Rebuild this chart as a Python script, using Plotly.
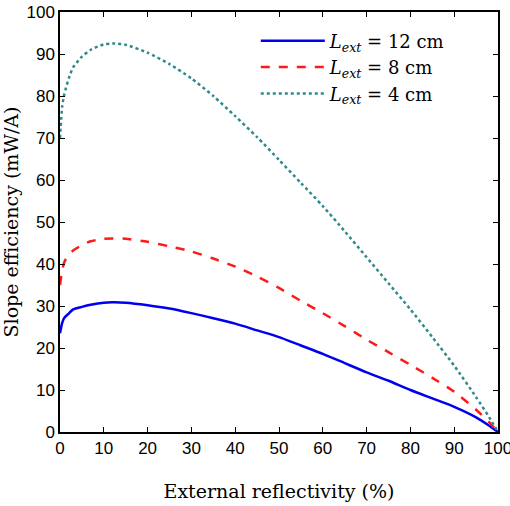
import plotly.graph_objects as go

# External reflectivity (%) sample points
reflectivity = [0, 0.5, 1, 2, 3, 5, 7, 10, 12, 15, 20, 25, 30, 35, 40, 45, 50, 55, 60, 65, 70, 75, 80, 85, 90, 95, 98, 100]

# Slope efficiency (mW/A) for each external cavity length
slope_12cm = [23.5, 26.0, 27.2, 28.2, 29.2, 29.8, 30.3, 30.8, 30.9, 30.8, 30.2, 29.4, 28.3, 27.1, 25.8, 24.2, 22.6, 20.6, 18.6, 16.4, 14.2, 12.2, 10.0, 8.0, 6.0, 3.5, 1.5, 0]
slope_8cm = [35.0, 38.5, 40.5, 42.2, 43.2, 44.5, 45.4, 46.0, 46.1, 46.0, 45.3, 44.2, 43.0, 41.3, 39.4, 37.0, 34.3, 31.2, 28.3, 25.2, 22.0, 19.0, 16.0, 12.9, 9.6, 5.3, 2.3, 0]
slope_4cm = [70.0, 77.5, 80.5, 84.2, 86.8, 89.4, 91.0, 92.3, 92.5, 92.2, 90.3, 87.6, 84.2, 80.0, 75.2, 70.2, 64.8, 59.3, 53.8, 47.8, 41.6, 35.4, 29.2, 22.6, 15.8, 8.3, 3.5, 0]

series = [
    ("<i>L<sub>ext</sub></i> = 12 cm", slope_12cm, "#0000ee", "solid"),
    ("<i>L<sub>ext</sub></i> = 8 cm", slope_8cm, "#ff1a1a", "dash"),
    ("<i>L<sub>ext</sub></i> = 4 cm", slope_4cm, "#2e8a8a", "dot"),
]

x_ticks = list(range(0, 101, 10))
y_ticks = list(range(0, 101, 10))

serif = "DejaVu Serif, Liberation Serif, serif"

fig = go.Figure()
for name, values, color, dash in series:
    fig.add_trace(go.Scatter(
        x=reflectivity, y=values, mode="lines", name=name,
        line=dict(color=color, width=2.5, dash=dash, shape="spline", smoothing=0.6),
    ))

axis_common = dict(
    showline=True, linecolor="black", linewidth=1.5, mirror="ticks",
    ticks="inside", ticklen=5, tickwidth=1, tickcolor="black",
    showgrid=False, zeroline=False, automargin=False,
    ticklabeloverflow="allow",
    tickfont=dict(family="Liberation Sans, Arial, sans-serif", size=17, color="black"),
)

fig.update_layout(
    width=510, height=506,
    margin=dict(l=60, r=12, t=12, b=74),
    paper_bgcolor="white", plot_bgcolor="white",
    xaxis=dict(
        range=[0, 100], tickvals=x_ticks,
        title=dict(text="External reflectivity (%)", standoff=28,
                   font=dict(family=serif, size=19, color="black")),
        **axis_common,
    ),
    yaxis=dict(
        range=[0, 100], tickvals=y_ticks,
        title=dict(text="Slope efficiency (mW/A)", standoff=6,
                   font=dict(family=serif, size=19, color="black")),
        **axis_common,
    ),
    legend=dict(
        x=0.447, y=0.975, xanchor="left", yanchor="top",
        bgcolor="rgba(0,0,0,0)", borderwidth=0,
        itemwidth=64, tracegroupgap=0,
        font=dict(family=serif, size=18, color="black"),
    ),
    showlegend=True,
)

fig.write_html("out.html")
